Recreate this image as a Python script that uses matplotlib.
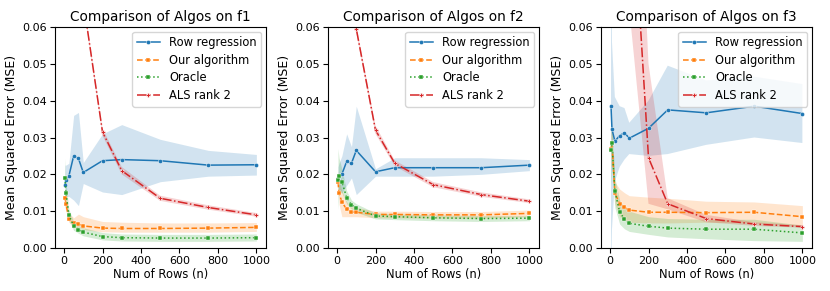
#!/usr/bin/env python3
# plot.py - MSE vs number of rows, three test functions

import matplotlib
matplotlib.use("Agg")
import matplotlib.pyplot as plt

# ===== shared x axis (number of rows) =====
n_rows = [5, 10, 25, 50, 75, 100, 200, 300, 500, 750, 1000]

labels = ["Row regression", "Our algorithm", "Oracle", "ALS rank 2"]
colors = ["#1f77b4", "#ff7f0e", "#2ca02c", "#d62728"]
styles = ["-", "--", ":", "-."]
markers = ["o", "s", "s", "P"]

# ===== f1 =====
f1_row = [0.0170, 0.0185, 0.0195, 0.0250, 0.0243, 0.0205, 0.0237, 0.0240, 0.0237, 0.0225, 0.0226]
f1_row_lo = [0.0135, 0.0140, 0.0140, 0.0130, 0.0115, 0.0175, 0.0152, 0.0145, 0.0180, 0.0195, 0.0198]
f1_row_hi = [0.0225, 0.0225, 0.0230, 0.0360, 0.0368, 0.0232, 0.0310, 0.0335, 0.0295, 0.0265, 0.0254]
f1_ours = [0.0135, 0.0120, 0.0080, 0.0067, 0.0065, 0.0060, 0.0054, 0.0053, 0.0053, 0.0054, 0.0056]
f1_ours_lo = [0.0110, 0.0100, 0.0070, 0.0057, 0.0055, 0.0050, 0.0044, 0.0043, 0.0043, 0.0043, 0.0045]
f1_ours_hi = [0.0165, 0.0145, 0.0095, 0.0082, 0.0092, 0.0085, 0.0072, 0.0070, 0.0068, 0.0068, 0.0069]
f1_oracle = [0.0190, 0.0150, 0.0090, 0.0060, 0.0050, 0.0043, 0.0031, 0.0028, 0.0027, 0.0027, 0.0028]
f1_oracle_lo = [0.0140, 0.0120, 0.0075, 0.0048, 0.0040, 0.0033, 0.0022, 0.0019, 0.0018, 0.0018, 0.0019]
f1_oracle_hi = [0.0245, 0.0180, 0.0105, 0.0072, 0.0062, 0.0055, 0.0042, 0.0038, 0.0037, 0.0037, 0.0038]
f1_als = [0.350, 0.300, 0.200, 0.130, 0.090, 0.0670, 0.0315, 0.0210, 0.0135, 0.0110, 0.0090]
f1_als_lo = [0.340, 0.290, 0.195, 0.127, 0.088, 0.0660, 0.0305, 0.0200, 0.0128, 0.0104, 0.0085]
f1_als_hi = [0.360, 0.310, 0.205, 0.133, 0.092, 0.0680, 0.0325, 0.0220, 0.0142, 0.0116, 0.0095]

# ===== f2 =====
f2_row = [0.0190, 0.0195, 0.0200, 0.0235, 0.0230, 0.0265, 0.0207, 0.0218, 0.0218, 0.0218, 0.0225]
f2_row_lo = [0.0160, 0.0160, 0.0150, 0.0170, 0.0190, 0.0145, 0.0195, 0.0195, 0.0195, 0.0200, 0.0210]
f2_row_hi = [0.0220, 0.0230, 0.0250, 0.0310, 0.0275, 0.0385, 0.0215, 0.0245, 0.0245, 0.0245, 0.0240]
f2_ours = [0.0180, 0.0150, 0.0125, 0.0105, 0.0098, 0.0097, 0.0091, 0.0091, 0.0090, 0.0090, 0.0094]
f2_ours_lo = [0.0150, 0.0120, 0.0085, 0.0085, 0.0085, 0.0085, 0.0082, 0.0082, 0.0081, 0.0081, 0.0085]
f2_ours_hi = [0.0210, 0.0185, 0.0155, 0.0125, 0.0115, 0.0110, 0.0100, 0.0100, 0.0099, 0.0099, 0.0103]
f2_oracle = [0.0185, 0.0195, 0.0180, 0.0137, 0.0118, 0.0108, 0.0087, 0.0085, 0.0082, 0.0080, 0.0081]
f2_oracle_lo = [0.0105, 0.0150, 0.0150, 0.0120, 0.0105, 0.0097, 0.0079, 0.0077, 0.0074, 0.0072, 0.0074]
f2_oracle_hi = [0.0270, 0.0245, 0.0215, 0.0155, 0.0130, 0.0120, 0.0095, 0.0093, 0.0090, 0.0088, 0.0088]
f2_als = [0.300, 0.250, 0.170, 0.110, 0.080, 0.0595, 0.0320, 0.0230, 0.0172, 0.0145, 0.0127]
f2_als_lo = [0.290, 0.240, 0.165, 0.107, 0.078, 0.0585, 0.0310, 0.0222, 0.0165, 0.0139, 0.0122]
f2_als_hi = [0.310, 0.260, 0.175, 0.113, 0.082, 0.0605, 0.0332, 0.0238, 0.0179, 0.0151, 0.0132]

# ===== f3 =====
f3_row = [0.0385, 0.0323, 0.0290, 0.0305, 0.0313, 0.0298, 0.0325, 0.0375, 0.0367, 0.0385, 0.0365]
f3_row_lo = [-0.0100, 0.0050, 0.0180, 0.0220, 0.0240, 0.0255, 0.0250, 0.0255, 0.0280, 0.0300, 0.0285]
f3_row_hi = [0.0900, 0.0560, 0.0410, 0.0385, 0.0380, 0.0340, 0.0400, 0.0495, 0.0455, 0.0465, 0.0445]
f3_ours = [0.0270, 0.0285, 0.0150, 0.0120, 0.0110, 0.0103, 0.0097, 0.0097, 0.0096, 0.0097, 0.0085]
f3_ours_lo = [0.0220, 0.0230, 0.0120, 0.0085, 0.0075, 0.0070, 0.0068, 0.0068, 0.0070, 0.0068, 0.0060]
f3_ours_hi = [0.0320, 0.0330, 0.0180, 0.0160, 0.0150, 0.0142, 0.0138, 0.0135, 0.0127, 0.0125, 0.0115]
f3_oracle = [0.0265, 0.0285, 0.0155, 0.0098, 0.0078, 0.0067, 0.0059, 0.0054, 0.0051, 0.0051, 0.0041]
f3_oracle_lo = [0.0170, 0.0220, 0.0110, 0.0065, 0.0052, 0.0045, 0.0037, 0.0030, 0.0025, 0.0020, 0.0018]
f3_oracle_hi = [0.0330, 0.0330, 0.0190, 0.0130, 0.0110, 0.0100, 0.0085, 0.0080, 0.0078, 0.0078, 0.0062]
f3_als = [0.400, 0.350, 0.250, 0.180, 0.140, 0.1100, 0.0245, 0.0120, 0.0080, 0.0065, 0.0058]
f3_als_lo = [0.300, 0.250, 0.180, 0.120, 0.090, 0.0650, 0.0120, 0.0105, 0.0070, 0.0060, 0.0055]
f3_als_hi = [0.500, 0.450, 0.320, 0.240, 0.190, 0.1600, 0.0500, 0.0135, 0.0090, 0.0070, 0.0062]

panels = [
    ("f1", [(f1_row, f1_row_lo, f1_row_hi), (f1_ours, f1_ours_lo, f1_ours_hi),
            (f1_oracle, f1_oracle_lo, f1_oracle_hi), (f1_als, f1_als_lo, f1_als_hi)]),
    ("f2", [(f2_row, f2_row_lo, f2_row_hi), (f2_ours, f2_ours_lo, f2_ours_hi),
            (f2_oracle, f2_oracle_lo, f2_oracle_hi), (f2_als, f2_als_lo, f2_als_hi)]),
    ("f3", [(f3_row, f3_row_lo, f3_row_hi), (f3_ours, f3_ours_lo, f3_ours_hi),
            (f3_oracle, f3_oracle_lo, f3_oracle_hi), (f3_als, f3_als_lo, f3_als_hi)]),
]

plt.rcParams["font.family"] = ["DejaVu Sans"]
plt.rcParams["font.size"] = 8.3

fig = plt.figure(figsize=(8.3, 2.91), dpi=100)

ax_w, ax_h = 211 / 830, 221 / 291
ax_bottom = 43 / 291
ax_lefts = [55 / 830, 328 / 830, 601 / 830]

for left, (fname, series) in zip(ax_lefts, panels):
    ax = fig.add_axes([left, ax_bottom, ax_w, ax_h])
    for (y, lo, hi), lab, col, ls, mk in zip(series, labels, colors, styles, markers):
        ax.fill_between(n_rows, lo, hi, color=col, alpha=0.2, linewidth=0)
        ax.plot(n_rows, y, color=col, linestyle=ls, marker=mk, markersize=3,
                markeredgecolor="white", markeredgewidth=0.3, linewidth=1.1, label=lab)
    ax.set_xlim(-47, 1050)
    ax.set_ylim(0, 0.06)
    ax.set_xticks([0, 200, 400, 600, 800, 1000])
    ax.set_yticks([0.0, 0.01, 0.02, 0.03, 0.04, 0.05, 0.06])
    ax.set_yticklabels([f"{v:.2f}" for v in [0.0, 0.01, 0.02, 0.03, 0.04, 0.05, 0.06]])
    ax.tick_params(labelsize=8, length=3.5, width=0.8, pad=2.5)
    ax.set_title(f"Comparison of Algos on {fname}", fontsize=9.8, pad=4)
    ax.set_xlabel("Num of Rows (n)", fontsize=8.3, labelpad=1)
    ax.set_ylabel("Mean Squared Error (MSE)", fontsize=9, labelpad=3)
    ax.legend(loc="upper right", fontsize=8.3, handlelength=2.0, labelspacing=0.4,
              borderaxespad=0.4)

fig.savefig("out.png", dpi=100)
